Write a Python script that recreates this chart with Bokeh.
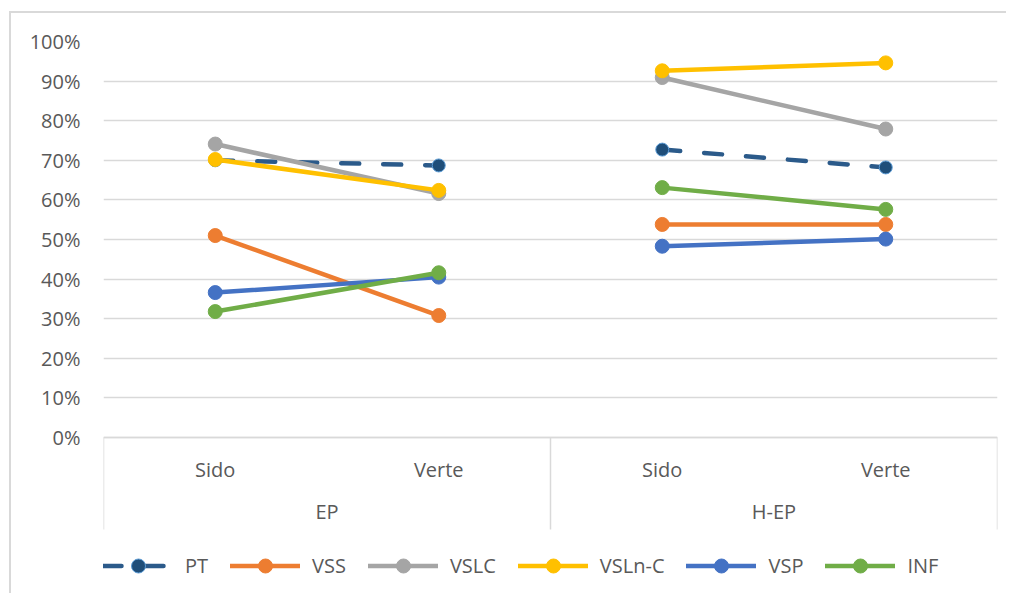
from bokeh.plotting import figure
from bokeh.models import FactorRange, FixedTicker, NumeralTickFormatter, Legend, LegendItem
from bokeh.embed import file_html
from bokeh.resources import INLINE

# ---- data ----
groups = ["EP", "EP", "H-EP", "H-EP"]
subgroups = ["Sido", "Verte", "Sido", "Verte"]
series_names = ["PT", "VSS", "VSLC", "VSLn-C", "VSP", "INF"]
PT = [0.700, 0.687, 0.727, 0.682]
VSS = [0.510, 0.308, 0.538, 0.538]
VSLC = [0.741, 0.616, 0.909, 0.779]
VSLnC = [0.702, 0.624, 0.926, 0.946]
VSP = [0.366, 0.405, 0.483, 0.501]
INF = [0.318, 0.416, 0.631, 0.576]
y_ticks = [0.0, 0.1, 0.2, 0.3, 0.4, 0.5, 0.6, 0.7, 0.8, 0.9, 1.0]

series_values = [PT, VSS, VSLC, VSLnC, VSP, INF]
colors = ["#2B5A8A", "#ED7D31", "#A5A5A5", "#FFC000", "#4472C4", "#70AD47"]
dashes = ["18 24", "solid", "solid", "solid", "solid", "solid"]

FONT = "Open Sans"
TXT = "#595959"
GRID = "#D9D9D9"

# ---- geometry (pixels) ----
PX_PER_UNIT = 396.0          # 0% -> 100%
BELOW_ZERO_PX = 158.0        # frame extends below the 0% line (categories + legend)
SEP_PX = 92.0                # length of category separators
y_start = -BELOW_ZERO_PX / PX_PER_UNIT

factors = list(zip(groups, subgroups))
x_range = FactorRange(*factors, group_padding=0, factor_padding=0, range_padding=0)

p = figure(x_range=x_range, y_range=(y_start, 1.0), width=997, height=582,
           output_backend="svg", toolbar_location=None,
           min_border_left=92, min_border_right=11, min_border_top=28, min_border_bottom=0)
p.margin = (11, 0, 0, 9)
p.styles = {"border-left": "2px solid #D9D9D9", "border-top": "2px solid #D9D9D9"}
p.outline_line_color = None
p.background_fill_color = "white"
p.border_fill_color = "white"

# y axis
p.yaxis.ticker = FixedTicker(ticks=y_ticks)
p.yaxis.formatter = NumeralTickFormatter(format="0%")
p.yaxis.axis_line_color = None
p.yaxis.major_tick_line_color = None
p.yaxis.minor_tick_line_color = None
p.yaxis.major_label_text_font = FONT
p.yaxis.major_label_text_font_size = "20px"
p.yaxis.major_label_text_color = TXT
p.yaxis.major_label_standoff = 17
p.ygrid.grid_line_color = GRID
p.ygrid.grid_line_width = 1.5
p.xgrid.grid_line_color = None

# x axis, drawn at the 0% line inside the frame
xa = p.xaxis[0]
xa.fixed_location = 0
xa.axis_line_color = GRID
xa.axis_line_width = 1.5
xa.major_tick_line_color = None
xa.minor_tick_line_color = None
xa.major_label_text_font = FONT
xa.major_label_text_font_size = "20px"
xa.major_label_text_color = TXT
xa.major_label_text_font_style = "normal"
xa.group_text_font = FONT
xa.group_text_font_size = "20px"
xa.group_text_color = TXT
xa.group_text_font_style = "normal"
xa.separator_line_color = None
xa.major_label_standoff = 12

# category separators: at both ends and between the two groups
n = len(factors)
edges = [0, n / 2, n]
p.segment(x0=edges, y0=[0] * 3, x1=edges, y1=[-SEP_PX / PX_PER_UNIT] * 3,
          line_color=GRID, line_width=1.5)

items = []
group_names = list(dict.fromkeys(groups))
for name, vals, col, dash in zip(series_names, series_values, colors, dashes):
    first_line = first_sc = None
    for g in group_names:
        fx = [f for f in factors if f[0] == g]
        fy = [v for f, v in zip(factors, vals) if f[0] == g]
        lr = p.line(x=fx, y=fy, line_color=col, line_width=4.5, line_dash=dash,
                    line_cap="round", line_join="round")
        if name == "PT":
            sr = p.scatter(x=fx, y=fy, size=13, fill_color="#1F4E79",
                           line_color="#5B9BD5", line_width=1)
        else:
            sr = p.scatter(x=fx, y=fy, size=14, fill_color=col, line_color=col)
        if first_line is None:
            first_line, first_sc = lr, sr
    items.append(LegendItem(label=name, renderers=[first_line, first_sc]))

legend = Legend(items=items, orientation="horizontal", location=(0, 12),
                glyph_width=70, glyph_height=35, label_standoff=12, spacing=22,
                padding=0, margin=0, border_line_color=None, background_fill_alpha=0,
                label_text_font=FONT, label_text_font_size="20px", label_text_color=TXT)
p.add_layout(legend, "center")

open("out.html", "w").write(file_html(p, INLINE))
